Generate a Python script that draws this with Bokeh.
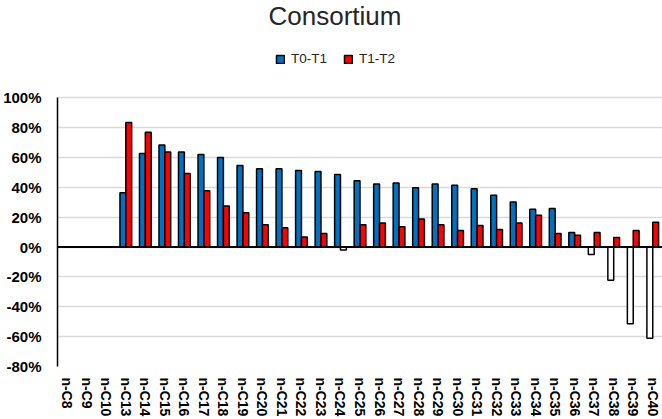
import numpy as np
from bokeh.plotting import figure
from bokeh.models import (ColumnDataSource, FactorRange, Range1d, FixedTicker,
                          PrintfTickFormatter, Span, Legend, LegendItem, Label)
from bokeh.transform import dodge
from bokeh.embed import file_html
from bokeh.resources import INLINE

# Alkane carbon numbers
categories = ["n-C8", "n-C9", "n-C10", "n-C13", "n-C14", "n-C15", "n-C16", "n-C17",
              "n-C18", "n-C19", "n-C20", "n-C21", "n-C22", "n-C23", "n-C24", "n-C25",
              "n-C26", "n-C27", "n-C28", "n-C29", "n-C30", "n-C31", "n-C32", "n-C33",
              "n-C34", "n-C35", "n-C36", "n-C37", "n-C38", "n-C39", "n-C40"]

# Degradation (%) between sampling times; None = not detected
t0_t1 = [None, None, None, 36.4, 62.7, 68.4, 63.7, 62.0, 60.0, 54.7, 52.4, 52.4,
         51.3, 50.7, 48.7, 44.4, 42.2, 42.9, 39.7, 42.2, 41.5, 39.1, 34.7, 30.2,
         25.3, 25.8, 9.8, -4.9, -22.3, -51.3, -61.1]
t1_t2 = [None, None, None, 83.5, 77.0, 63.7, 49.3, 37.7, 27.5, 23.0, 14.9, 13.0,
         6.7, 9.1, -2.0, 14.9, 16.2, 13.7, 18.9, 14.9, 11.1, 14.4, 11.7, 16.2,
         21.3, 9.1, 8.0, 9.8, 6.4, 11.1, 16.7]

series_names = ["T0-T1", "T1-T2"]
series_colors = ["#0070C0", "#FF0000"]
y_ticks = [-80, -60, -40, -20, 0, 20, 40, 60, 80, 100]
chart_title = "Consortium"


def to_num(vals):
    return [np.nan if v is None else v for v in vals]


def fills(vals, color):
    # negative changes are drawn as hollow bars
    return [color if (v is None or v >= 0) else "white" for v in vals]


source = ColumnDataSource(data=dict(
    cat=categories,
    a=to_num(t0_t1), b=to_num(t1_t2),
    fa=fills(t0_t1, series_colors[0]), fb=fills(t1_t2, series_colors[1]),
))

# the plot area runs to the top edge; headroom above 100% holds title and legend,
# while the y axis itself stops at 100%
p = figure(width=662, height=419, output_backend="svg", toolbar_location=None,
           x_range=FactorRange(*categories), y_range=Range1d(-80, 165.2),
           min_border_left=57, min_border_right=0, min_border_top=0,
           min_border_bottom=52)
p.outline_line_color = None
p.background_fill_color = "white"
p.border_fill_color = "white"

bar_w = 0.3
r_a = p.vbar(x=dodge("cat", -bar_w / 2, range=p.x_range), top="a", bottom=0,
             width=bar_w, source=source, fill_color="fa", line_color="black",
             line_width=1.5)
r_b = p.vbar(x=dodge("cat", bar_w / 2, range=p.x_range), top="b", bottom=0,
             width=bar_w, source=source, fill_color="fb", line_color="black",
             line_width=1.5)

p.add_layout(Span(location=0, dimension="width", line_color="black", line_width=2))

# axes
p.yaxis.ticker = FixedTicker(ticks=y_ticks)
p.yaxis.bounds = (-80, 100)
p.yaxis.formatter = PrintfTickFormatter(format="%d%%")
p.yaxis.major_tick_line_color = None
p.yaxis.minor_tick_line_color = None
p.yaxis.axis_line_color = "black"
p.yaxis.axis_line_width = 1.5
p.yaxis.major_label_standoff = 10
p.yaxis.major_label_text_font = "Liberation Sans"
p.yaxis.major_label_text_font_style = "bold"
p.yaxis.major_label_text_font_size = "15px"
p.yaxis.major_label_text_color = "black"

p.xaxis.axis_line_color = None
p.xaxis.major_tick_line_color = None
p.xaxis.minor_tick_line_color = None
p.xaxis.major_label_orientation = "vertical"
p.xaxis.major_label_standoff = 5
p.xaxis.major_label_text_font = "Liberation Sans"
p.xaxis.major_label_text_font_style = "bold"
p.xaxis.major_label_text_font_size = "14px"
p.xaxis.major_label_text_color = "black"

p.xgrid.visible = False
p.ygrid.grid_line_color = "#d9d9d9"
p.ygrid.grid_line_width = 1.5

# title, placed in screen pixels within the plot area
p.add_layout(Label(x=277.5, y=351, x_units="screen", y_units="screen",
                   text=chart_title, text_align="center",
                   text_baseline="alphabetic", text_font="Liberation Sans",
                   text_font_size="26px", text_color="#262626"))

# legend sits in the headroom above the 100% line
legend = Legend(items=[LegendItem(label=series_names[0], renderers=[r_a], index=3),
                       LegendItem(label=series_names[1], renderers=[r_b], index=3)],
                orientation="horizontal", location=(218, 300),
                glyph_width=10, glyph_height=10, label_standoff=6, spacing=16,
                padding=0, margin=0, border_line_color=None,
                background_fill_alpha=0,
                label_text_font="Liberation Sans", label_text_font_size="13.5px",
                label_text_color="#262626")
p.add_layout(legend, "center")

open("out.html", "w").write(file_html(p, INLINE))
